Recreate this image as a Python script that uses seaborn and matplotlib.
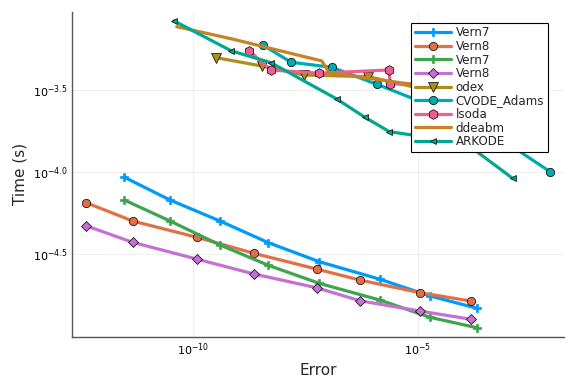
import numpy as np
import pandas as pd
import matplotlib
matplotlib.use('Agg')
import matplotlib.pyplot as plt
import seaborn as sns

# log10(error), log10(time)
vern7_a_err = [-11.537, -10.519, -9.405, -8.330, -7.194, -5.843, -4.729, -3.675]
vern7_a_time = [-4.030, -4.169, -4.297, -4.429, -4.545, -4.652, -4.754, -4.829]
vern8_a_err = [-12.390, -11.350, -9.924, -8.648, -7.252, -6.287, -4.951, -3.815]
vern8_a_time = [-4.185, -4.297, -4.396, -4.494, -4.590, -4.657, -4.734, -4.785]
vern7_b_err = vern7_a_err
vern7_b_time = [-4.169, -4.297, -4.443, -4.567, -4.677, -4.779, -4.884, -4.948]
vern8_b_err = vern8_a_err
vern8_b_time = [-4.326, -4.427, -4.529, -4.620, -4.704, -4.783, -4.846, -4.896]
odex_err = [-9.494, -8.477, -7.535, -6.102, -4.506]
odex_time = [-3.301, -3.352, -3.407, -3.417, -3.516]
cvode_err = [-8.454, -7.824, -6.918, -5.915, -3.614, -2.056]
cvode_time = [-3.224, -3.329, -3.360, -3.463, -3.712, -3.996]
lsoda_err = [-8.759, -8.276, -7.194, -5.641, -5.619, -4.506]
lsoda_time = [-3.259, -3.376, -3.396, -3.376, -3.463, -3.455]
ddeabm_err = [-10.370, -9.109, -7.140, -6.971, -4.394]
ddeabm_time = [-3.112, -3.189, -3.321, -3.393, -3.492]
arkode_err = [-10.430, -9.160, -8.270, -6.806, -6.176, -5.635, -3.944, -2.887]
arkode_time = [-3.077, -3.259, -3.332, -3.553, -3.665, -3.752, -3.821, -4.037]

series = [
    ('Vern7', vern7_a_err, vern7_a_time, '#009AFA', 'P'),
    ('Vern8', vern8_a_err, vern8_a_time, '#E36F47', 'o'),
    ('Vern7', vern7_b_err, vern7_b_time, '#3EA44E', 'P'),
    ('Vern8', vern8_b_err, vern8_b_time, '#C371D2', 'D'),
    ('odex', odex_err, odex_time, '#AC8E18', 'v'),
    ('CVODE_Adams', cvode_err, cvode_time, '#00AAAE', 'o'),
    ('lsoda', lsoda_err, lsoda_time, '#ED5E93', 'h'),
    ('ddeabm', ddeabm_err, ddeabm_time, '#C68225', None),
    ('ARKODE', arkode_err, arkode_time, '#00A98D', '<'),
]
msizes = {'P': 6, 'o': 6, 'D': 4.8, 'v': 6.5, 'h': 7, '<': 4.8}

sns.set_theme(style='white')
plt.rcParams['font.family'] = ['DejaVu Sans']

fig = plt.figure(figsize=(5.76, 3.84), dpi=100)
ax = fig.add_axes([0.1252, 0.1224, 0.8535, 0.8471])

for name, e, t, col, m in series:
    df = pd.DataFrame({'err': 10.0 ** np.array(e), 'time': 10.0 ** np.array(t)})
    kw = dict(color=col, linewidth=2.3, label=name, sort=False, estimator=None, ax=ax)
    if m is not None:
        kw.update(marker=m, markersize=msizes[m],
                  markeredgecolor=col if m == 'P' else 'black',
                  markeredgewidth=0.5)
    sns.lineplot(data=df, x='err', y='time', **kw)

ax.set_xscale('log')
ax.set_yscale('log')
ax.set_xlim(10 ** -12.70, 10 ** -1.75)
ax.set_ylim(10 ** -5.004, 10 ** -3.021)

ax.xaxis.set_major_locator(matplotlib.ticker.FixedLocator([1e-10, 1e-5]))
ax.xaxis.set_major_formatter(matplotlib.ticker.FixedFormatter([r'$10^{-10}$', r'$10^{-5}$']))
yt = [10 ** -3.5, 10 ** -4.0, 10 ** -4.5]
ax.yaxis.set_major_locator(matplotlib.ticker.FixedLocator(yt))
ax.yaxis.set_major_formatter(matplotlib.ticker.FixedFormatter(
    [r'$10^{-3.5}$', r'$10^{-4.0}$', r'$10^{-4.5}$']))
ax.xaxis.set_minor_locator(matplotlib.ticker.NullLocator())
ax.yaxis.set_minor_locator(matplotlib.ticker.NullLocator())

ax.grid(True, color='black', alpha=0.08, linewidth=0.6)
ax.tick_params(axis='both', which='major', direction='in', length=4, width=0.8,
               labelsize=8, color='#444444', labelcolor='black', pad=3)
for s in ['top', 'right']:
    ax.spines[s].set_visible(False)
for s in ['left', 'bottom']:
    ax.spines[s].set_color('#555555')
    ax.spines[s].set_linewidth(1.0)

ax.set_xlabel('Error', fontsize=11, labelpad=4)
ax.set_ylabel('Time (s)', fontsize=11, labelpad=4)

leg = ax.legend(loc='upper right', bbox_to_anchor=(0.9675, 0.966), fontsize=8.6,
                frameon=True, fancybox=False, framealpha=1.0, edgecolor='black',
                borderpad=0.3, labelspacing=0.05, handlelength=3.0, handletextpad=0.4,
                borderaxespad=0.0)
leg.get_frame().set_linewidth(0.8)

fig.savefig('out.png', dpi=100)
